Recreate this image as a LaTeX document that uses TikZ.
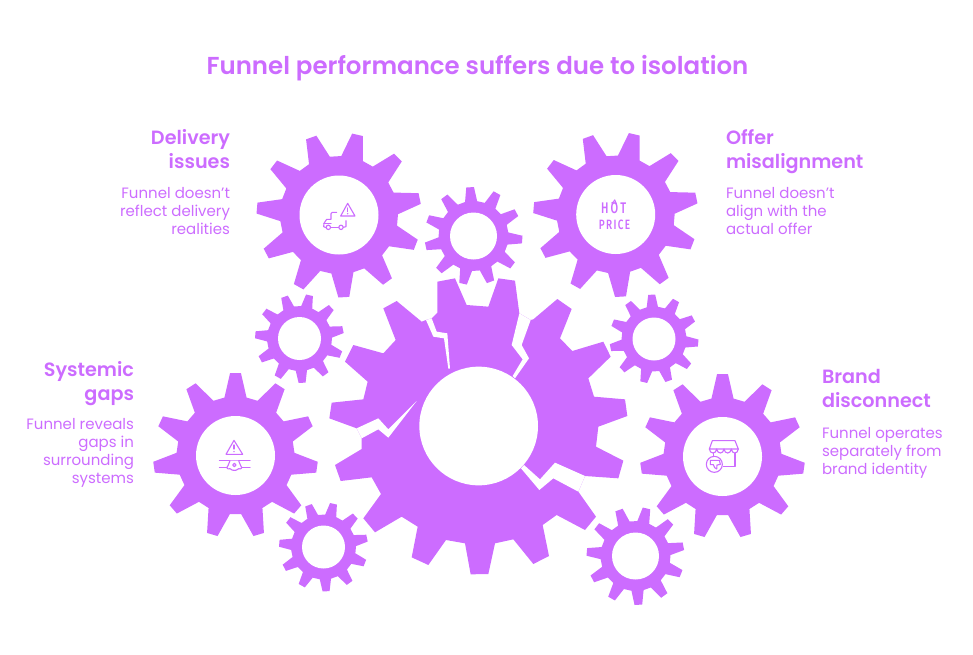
\documentclass[tikz,border=0pt]{standalone}
\usepackage{fontspec}
\setmainfont{Poppins}
\newfontfamily\headfont{Poppins SemiBold}
\newfontfamily\iconfont{Fira Sans Medium}
\definecolor{grape}{RGB}{204,108,255}
% cogwheel: centre x, y, tip radius, root radius, hole radius, teeth, first tooth angle, tip half-angle, root half-angle
\newcommand{\cogwheel}[9]{%
  \pgfmathsetmacro{\stepang}{360/#6}%
  \pgfmathtruncatemacro{\lastidx}{#6-1}%
  \fill[grape] ({#1+#4*cos(#7-#9)},{#2-#4*sin(#7-#9)})
    \foreach \k in {0,...,\lastidx} {
      \pgfextra{\pgfmathsetmacro{\ang}{#7+\k*\stepang}}
      -- ({#1+#3*cos(\ang-#8)},{#2-#3*sin(\ang-#8)})
      -- ({#1+#3*cos(\ang+#8)},{#2-#3*sin(\ang+#8)})
      -- ({#1+#4*cos(\ang+#9)},{#2-#4*sin(\ang+#9)})
      -- ({#1+#4*cos(\ang+\stepang-#9)},{#2-#4*sin(\ang+\stepang-#9)})
    } -- cycle;
  \fill[white] (#1,#2) circle (#5);
}
\tikzset{
  every node/.style={text=grape,inner sep=0pt,outer sep=0pt},
  titletext/.style={font=\headfont\fontsize{24.5}{30}\selectfont},
  headleft/.style={font=\headfont\fontsize{19.2}{24}\selectfont,align=left,anchor=north west},
  headright/.style={font=\headfont\fontsize{19.2}{24}\selectfont,align=right,anchor=north east},
  bodyleft/.style={font=\fontsize{15}{18}\selectfont,align=left,anchor=north west},
  bodyright/.style={font=\fontsize{15}{18}\selectfont,align=right,anchor=north east},
  iconline/.style={draw=grape,line width=1.1pt,line cap=round,line join=round},
  crackcut/.style={fill=white,draw=none}
}
\begin{document}
\begin{tikzpicture}[x=1pt,y=-1pt]
\useasboundingbox (0,0) rectangle (973,654);

% central wheel with its fractures
\begin{scope}[shift={(320,270)},scale=1/3]
  \fill[grape] (352,35) -- (405,25) -- (440,105) -- (505,110) -- (535,25) -- (585,32) -- (598,130)
    -- (632,150) -- (640,148) -- (712,87) -- (755,117) -- (720,205) -- (757,243) -- (850,215)
    -- (872,260) -- (805,325) -- (822,380) -- (915,388) -- (922,438) -- (835,470) -- (828,530)
    -- (910,572) -- (895,625) -- (795,618) -- (775,665) -- (828,740) -- (795,780) -- (710,735)
    -- (668,765) -- (687,858) -- (640,882) -- (580,808) -- (525,820) -- (505,912) -- (452,913)
    -- (435,820) -- (378,810) -- (325,885) -- (275,862) -- (293,770) -- (245,740) -- (165,787)
    -- (130,745) -- (183,672) -- (155,622) -- (62,633) -- (45,585) -- (125,537) -- (125,505)
    -- (110,475) -- (28,445) -- (35,398) -- (130,388) -- (143,335) -- (75,275) -- (100,225)
    -- (190,250) -- (227,210) -- (190,115) -- (230,93) -- (305,155) -- (318,150) -- (335,145)
    -- (352,128) -- cycle;
  \fill[crackcut] (318,150) -- (340,200) -- (372,205) -- (385,296) -- (390,296)
    -- (382,190) -- (350,185) -- (335,145) -- cycle;
  \fill[crackcut] (598,130) -- (575,225) -- (608,268) -- (578,318) -- (585,325)
    -- (627,265) -- (605,225) -- (632,150) -- cycle;
  \fill[crackcut] (125,505) -- (175,478) -- (205,503) -- (290,393) -- (205,478)
    -- (175,445) -- (110,475) -- cycle;
  \fill[crackcut] (612,585) -- (660,628) -- (705,578) -- (795,618) -- (775,665)
    -- (700,625) -- (658,660) -- (603,595) -- cycle;
  \fill[white] (476,468) circle (178);
\end{scope}

% outer wheels
\cogwheel{339}{215}{82.5}{59}{39.5}{11}{77}{3.8}{10.8}
\cogwheel{615.7}{214.5}{82.5}{59}{39.5}{11}{77}{3.8}{10.8}
\cogwheel{235.5}{455.5}{82.5}{59}{39.5}{11}{90}{3.8}{10.8}
\cogwheel{722.5}{456.5}{82.5}{59}{39.5}{11}{90}{3.8}{10.8}

% small wheels
\cogwheel{473.5}{236}{49}{35}{23.5}{11}{94}{4.5}{10}
\cogwheel{299.5}{338.5}{44.5}{32.5}{21.5}{11}{77}{4.5}{10}
\cogwheel{654}{339}{44.5}{32.5}{21.5}{11}{93}{4.5}{10}
\cogwheel{323.5}{547}{44.5}{32.5}{21.5}{11}{77}{4.5}{10}
\cogwheel{635.5}{556}{49}{35}{23.5}{11}{77}{4.5}{10}

% truck with warning sign
\begin{scope}[shift={(300,180)},scale=1/3]
  \draw[iconline] (143,70) -- (122,108) -- (165,108) -- cycle;
  \draw[iconline] (143,84) -- (143,95);
  \fill[grape] (143,101) circle (2.4);
  \draw[iconline] (110,97) -- (97,97) -- (93,101) -- (93,118) -- (80,118) -- (72,130) -- (71,140) -- (78,143);
  \draw[iconline] (72,130) -- (93,130);
  \draw[iconline] (85,142) circle (6.5);
  \draw[iconline] (123,142) circle (6.5);
  \draw[iconline] (92,142) -- (116,142);
  \draw[iconline] (130,142) -- (138,140) -- (138,122);
\end{scope}

% price badge, with a flame on the O
\node (hotword) at (613.7,207.7) {\iconfont\fontsize{11}{12}\selectfont\scalebox{1}[1.4]{H\hspace{2.2pt}O\hspace{2.2pt}T}};
\node (priceword) at (614.5,225.3) {\iconfont\fontsize{10}{12}\selectfont\scalebox{1}[1.35]{P\hspace{1.3pt}R\hspace{1.3pt}I\hspace{1.3pt}C\hspace{1.3pt}E}};
\begin{scope}[shift={(525,125)},scale=1/3]
  \draw[iconline] (260,234) .. controls (264,232) and (268,230) .. (269,225);
  \draw[iconline] (269,225) .. controls (272,229) and (274,232) .. (274,236);
\end{scope}

% warning sign over a valve
\begin{scope}[shift={(200,425)},scale=1/3]
  \draw[iconline] (102,46) -- (78,88) -- (128,88) -- cycle;
  \draw[iconline] (102,60) -- (102,72);
  \fill[grape] (102,80) circle (2.4);
  \draw[iconline] (58,107) -- (150,107);
  \draw[iconline] (58,127) -- (80,127);
  \draw[iconline] (126,127) -- (150,127);
  \draw[iconline,fill=white] (90,107) -- (84,122) .. controls (78,128) and (82,134) .. (90,131)
    .. controls (94,138) and (100,134) .. (103,136)
    .. controls (106,134) and (112,138) .. (116,131)
    .. controls (124,134) and (128,128) .. (122,122) -- (116,107);
  \draw[iconline] (103,120) circle (5);
\end{scope}

% storefront with thumbs down
\begin{scope}[shift={(685,425)},scale=1/3]
  \draw[iconline] (82,47) -- (150,47) -- (160,72) -- (73,72) -- cycle;
  \draw[iconline] (73,72) .. controls (75,88) and (93,88) .. (95,72)
    .. controls (97,88) and (115,88) .. (117,72)
    .. controls (119,88) and (137,88) .. (139,72)
    .. controls (141,88) and (158,88) .. (160,72);
  \draw[iconline] (150,85) -- (150,125) -- (115,125);
  \draw[iconline] (85,85) -- (85,94);
  \draw[iconline,fill=white] (88,118) circle (24);
  \draw[iconline] (76,106) -- (103,106) -- (106,118) -- (96,120) -- (95,132) -- (89,128) -- (85,119) -- (76,119) -- cycle;
\end{scope}

% captions
\node[titletext] (headline) at (477.5,68) {Funnel performance suffers due to isolation};

\node[headright] (deliveryhead) at (230,129) {Delivery\\issues};
\node[bodyright] (deliverybody) at (230,187) {Funnel doesn\symbol{39}t\\reflect delivery\\realities};

\node[headleft] (offerhead) at (726,129.5) {Offer\\misalignment};
\node[bodyleft] (offerbody) at (726,187) {Funnel doesn\symbol{39}t\\align with the\\actual offer};

\node[headright] (gapshead) at (134,361) {Systemic\\gaps};
\node[bodyright] (gapsbody) at (134,418.5) {Funnel reveals\\gaps in\\surrounding\\systems};

\node[headleft] (brandhead) at (822,369.5) {Brand\\disconnect};
\node[bodyleft] (brandbody) at (822,427.5) {Funnel operates\\separately from\\brand identity};
\end{tikzpicture}
\end{document}
